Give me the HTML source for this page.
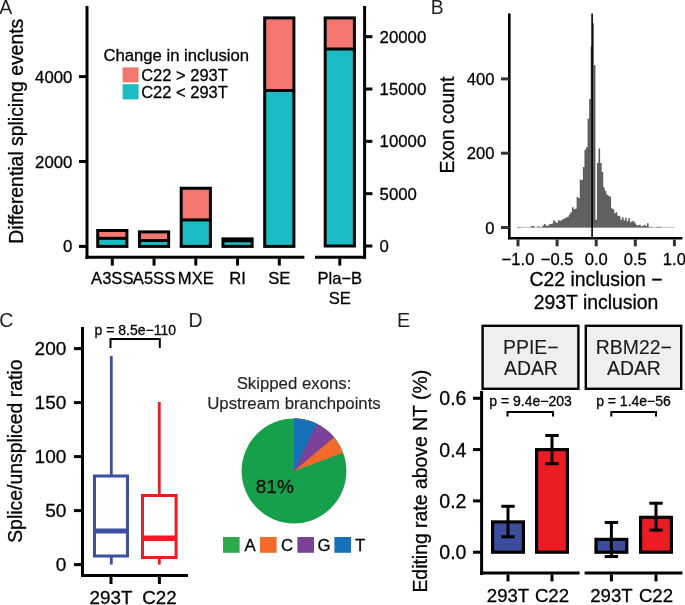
<!DOCTYPE html>
<html><head><meta charset="utf-8"><style>
html,body{margin:0;padding:0;background:#fff;}
svg{display:block;font-family:"Liberation Sans", sans-serif;will-change:transform;}
text{stroke:#000;stroke-width:0.28px;}
</style></head><body>
<svg width="685" height="605" viewBox="0 0 685 605">
<rect width="685" height="605" fill="#fff"/>
<text x="-0.8" y="14" font-size="19.5" text-anchor="start" fill="#231f20" style="stroke-width:0">A</text>
<text x="22.6" y="131.2" font-size="19.4" text-anchor="middle" fill="#000" transform="rotate(-90 22.6 131.2)" >Differential splicing events</text>
<line x1="87" y1="6" x2="87" y2="258.7" stroke="#000" stroke-width="3" stroke-linecap="butt"/>
<line x1="85.5" y1="257.2" x2="304.4" y2="257.2" stroke="#000" stroke-width="3" stroke-linecap="butt"/>
<line x1="79" y1="246.4" x2="87" y2="246.4" stroke="#000" stroke-width="3" stroke-linecap="butt"/>
<text x="72.4" y="252.4" font-size="16.8" text-anchor="end" fill="#000" >0</text>
<line x1="79" y1="161.5" x2="87" y2="161.5" stroke="#000" stroke-width="3" stroke-linecap="butt"/>
<text x="72.4" y="167.5" font-size="16.8" text-anchor="end" fill="#000" >2000</text>
<line x1="79" y1="76.6" x2="87" y2="76.6" stroke="#000" stroke-width="3" stroke-linecap="butt"/>
<text x="72.4" y="82.6" font-size="16.8" text-anchor="end" fill="#000" >4000</text>
<rect x="97.70" y="238.33" width="29.20" height="8.07" fill="#1bbcc4" stroke="none" stroke-width="0" />
<rect x="97.70" y="230.48" width="29.20" height="7.85" fill="#f3776f" stroke="none" stroke-width="0" />
<line x1="97.7" y1="238.3345" x2="126.89999999999999" y2="238.3345" stroke="#000" stroke-width="3" stroke-linecap="butt"/>
<rect x="97.70" y="230.48" width="29.20" height="15.92" fill="none" stroke="#000" stroke-width="3" />
<line x1="112.3" y1="258.7" x2="112.3" y2="265.6" stroke="#000" stroke-width="3" stroke-linecap="butt"/>
<text x="112.3" y="284" font-size="16.6" text-anchor="middle" fill="#000" >A3SS</text>
<rect x="139.45" y="240.54" width="29.20" height="5.86" fill="#1bbcc4" stroke="none" stroke-width="0" />
<rect x="139.45" y="231.88" width="29.20" height="8.66" fill="#f3776f" stroke="none" stroke-width="0" />
<line x1="139.45000000000002" y1="240.5419" x2="168.65" y2="240.5419" stroke="#000" stroke-width="3" stroke-linecap="butt"/>
<rect x="139.45" y="231.88" width="29.20" height="14.52" fill="none" stroke="#000" stroke-width="3" />
<line x1="154.05" y1="258.7" x2="154.05" y2="265.6" stroke="#000" stroke-width="3" stroke-linecap="butt"/>
<text x="154.05" y="284" font-size="16.6" text-anchor="middle" fill="#000" >A5SS</text>
<rect x="181.20" y="219.91" width="29.20" height="26.49" fill="#1bbcc4" stroke="none" stroke-width="0" />
<rect x="181.20" y="188.24" width="29.20" height="31.67" fill="#f3776f" stroke="none" stroke-width="0" />
<line x1="181.20000000000002" y1="219.9112" x2="210.4" y2="219.9112" stroke="#000" stroke-width="3" stroke-linecap="butt"/>
<rect x="181.20" y="188.24" width="29.20" height="58.16" fill="none" stroke="#000" stroke-width="3" />
<line x1="195.8" y1="258.7" x2="195.8" y2="265.6" stroke="#000" stroke-width="3" stroke-linecap="butt"/>
<text x="195.8" y="284" font-size="16.6" text-anchor="middle" fill="#000" >MXE</text>
<rect x="222.95" y="240.80" width="29.20" height="5.60" fill="#1bbcc4" stroke="none" stroke-width="0" />
<rect x="222.95" y="238.89" width="29.20" height="1.91" fill="#f3776f" stroke="none" stroke-width="0" />
<line x1="222.95000000000002" y1="240.7966" x2="252.15" y2="240.7966" stroke="#000" stroke-width="3" stroke-linecap="butt"/>
<rect x="222.95" y="238.89" width="29.20" height="7.51" fill="none" stroke="#000" stroke-width="3" />
<line x1="237.55" y1="258.7" x2="237.55" y2="265.6" stroke="#000" stroke-width="3" stroke-linecap="butt"/>
<text x="237.55" y="284" font-size="16.6" text-anchor="middle" fill="#000" >RI</text>
<rect x="264.70" y="90.48" width="29.20" height="155.92" fill="#1bbcc4" stroke="none" stroke-width="0" />
<rect x="264.70" y="17.89" width="29.20" height="72.59" fill="#f3776f" stroke="none" stroke-width="0" />
<line x1="264.7" y1="90.48115000000001" x2="293.90000000000003" y2="90.48115000000001" stroke="#000" stroke-width="3" stroke-linecap="butt"/>
<rect x="264.70" y="17.89" width="29.20" height="228.51" fill="none" stroke="#000" stroke-width="3" />
<line x1="279.3" y1="258.7" x2="279.3" y2="265.6" stroke="#000" stroke-width="3" stroke-linecap="butt"/>
<text x="279.3" y="284" font-size="16.6" text-anchor="middle" fill="#000" >SE</text>
<line x1="315" y1="257.2" x2="366" y2="257.2" stroke="#000" stroke-width="3" stroke-linecap="butt"/>
<line x1="364.6" y1="6" x2="364.6" y2="258.7" stroke="#000" stroke-width="3" stroke-linecap="butt"/>
<line x1="364.6" y1="246.0" x2="372.4" y2="246.0" stroke="#000" stroke-width="3" stroke-linecap="butt"/>
<text x="379.6" y="252.0" font-size="16.8" text-anchor="start" fill="#000" >0</text>
<line x1="364.6" y1="193.67000000000002" x2="372.4" y2="193.67000000000002" stroke="#000" stroke-width="3" stroke-linecap="butt"/>
<text x="379.6" y="199.67000000000002" font-size="16.8" text-anchor="start" fill="#000" >5000</text>
<line x1="364.6" y1="141.34" x2="372.4" y2="141.34" stroke="#000" stroke-width="3" stroke-linecap="butt"/>
<text x="379.6" y="147.34" font-size="16.8" text-anchor="start" fill="#000" >10000</text>
<line x1="364.6" y1="89.01000000000002" x2="372.4" y2="89.01000000000002" stroke="#000" stroke-width="3" stroke-linecap="butt"/>
<text x="379.6" y="95.01000000000002" font-size="16.8" text-anchor="start" fill="#000" >15000</text>
<line x1="364.6" y1="36.68000000000001" x2="372.4" y2="36.68000000000001" stroke="#000" stroke-width="3" stroke-linecap="butt"/>
<text x="379.6" y="42.68000000000001" font-size="16.8" text-anchor="start" fill="#000" >20000</text>
<rect x="325.20" y="49.00" width="29.20" height="197.00" fill="#1bbcc4" stroke="none" stroke-width="0" />
<rect x="325.20" y="17.90" width="29.20" height="31.10" fill="#f3776f" stroke="none" stroke-width="0" />
<line x1="325.2" y1="49" x2="354.40000000000003" y2="49" stroke="#000" stroke-width="3" stroke-linecap="butt"/>
<rect x="325.20" y="17.90" width="29.20" height="228.10" fill="none" stroke="#000" stroke-width="3" />
<line x1="339.8" y1="258.7" x2="339.8" y2="265.6" stroke="#000" stroke-width="3" stroke-linecap="butt"/>
<text x="339.8" y="284" font-size="16.6" text-anchor="middle" fill="#000" >Pla−B</text>
<text x="339.8" y="304" font-size="16.6" text-anchor="middle" fill="#000" >SE</text>
<text x="103.4" y="61" font-size="16.7" text-anchor="start" fill="#000" >Change in inclusion</text>
<rect x="122.60" y="67.40" width="16.00" height="15.00" fill="#f3776f" stroke="none" stroke-width="0" />
<rect x="122.60" y="84.20" width="16.00" height="15.20" fill="#1bbcc4" stroke="none" stroke-width="0" />
<text x="141.2" y="81" font-size="16.5" text-anchor="start" fill="#000" >C22 &gt; 293T</text>
<text x="141.2" y="98" font-size="16.5" text-anchor="start" fill="#000" >C22 &lt; 293T</text>
<text x="430.8" y="14" font-size="19.3" text-anchor="start" fill="#231f20" style="stroke-width:0">B</text>
<text x="454.2" y="125" font-size="19.4" text-anchor="middle" fill="#000" transform="rotate(-90 454.2 125)" >Exon count</text>
<line x1="517.2" y1="227.3" x2="675" y2="227.3" stroke="#888" stroke-width="0.5"/>
<path d="M517.22,227.5 L517.22,227.00 L518.78,227.00 L518.78,227.20 L520.35,227.20 L520.35,227.20 L521.91,227.20 L521.91,227.50 L523.47,227.50 L523.47,227.50 L525.04,227.50 L525.04,227.50 L526.60,227.50 L526.60,227.50 L528.17,227.50 L528.17,227.50 L529.73,227.50 L529.73,227.20 L531.29,227.20 L531.29,225.90 L532.86,225.90 L532.86,225.90 L534.42,225.90 L534.42,227.50 L535.99,227.50 L535.99,227.50 L537.55,227.50 L537.55,226.20 L539.11,226.20 L539.11,227.20 L540.68,227.20 L540.68,227.20 L542.24,227.20 L542.24,225.70 L543.81,225.70 L543.81,224.00 L545.37,224.00 L545.37,225.20 L546.93,225.20 L546.93,225.90 L548.50,225.90 L548.50,224.40 L550.06,224.40 L550.06,223.90 L551.63,223.90 L551.63,223.40 L553.19,223.40 L553.19,220.30 L554.75,220.30 L554.75,221.70 L556.32,221.70 L556.32,222.90 L557.88,222.90 L557.88,220.30 L559.45,220.30 L559.45,220.70 L561.01,220.70 L561.01,220.30 L562.57,220.30 L562.57,219.00 L564.14,219.00 L564.14,218.20 L565.70,218.20 L565.70,217.50 L567.27,217.50 L567.27,216.70 L568.83,216.70 L568.83,214.50 L570.39,214.50 L570.39,212.20 L571.96,212.20 L571.96,207.20 L573.52,207.20 L573.52,209.20 L575.09,209.20 L575.09,208.70 L576.65,208.70 L576.65,196.90 L578.21,196.90 L578.21,198.30 L579.78,198.30 L579.78,179.40 L581.34,179.40 L581.34,179.90 L582.91,179.90 L582.91,167.10 L584.47,167.10 L584.47,149.70 L586.03,149.70 L586.03,147.20 L587.60,147.20 L587.60,118.70 L589.16,118.70 L589.16,98.90 L590.73,98.90 L590.73,46.60 L592.29,46.60 L592.29,23.30 L593.85,23.30 L593.85,64.90 L595.42,64.90 L595.42,219.70 L596.98,219.70 L596.98,163.10 L598.55,163.10 L598.55,148.50 L600.11,148.50 L600.11,163.10 L601.67,163.10 L601.67,172.00 L603.24,172.00 L603.24,187.40 L604.80,187.40 L604.80,190.90 L606.37,190.90 L606.37,194.80 L607.93,194.80 L607.93,195.80 L609.49,195.80 L609.49,196.80 L611.06,196.80 L611.06,208.20 L612.62,208.20 L612.62,209.20 L614.19,209.20 L614.19,213.20 L615.75,213.20 L615.75,212.20 L617.31,212.20 L617.31,215.70 L618.88,215.70 L618.88,216.20 L620.44,216.20 L620.44,219.70 L622.01,219.70 L622.01,217.20 L623.57,217.20 L623.57,220.60 L625.13,220.60 L625.13,217.70 L626.70,217.70 L626.70,221.20 L628.26,221.20 L628.26,218.20 L629.83,218.20 L629.83,222.20 L631.39,222.20 L631.39,221.20 L632.95,221.20 L632.95,221.20 L634.52,221.20 L634.52,223.20 L636.08,223.20 L636.08,225.20 L637.65,225.20 L637.65,225.20 L639.21,225.20 L639.21,224.70 L640.77,224.70 L640.77,226.20 L642.34,226.20 L642.34,225.70 L643.90,225.70 L643.90,224.70 L645.47,224.70 L645.47,226.00 L647.03,226.00 L647.03,223.20 L648.59,223.20 L648.59,227.20 L650.16,227.20 L650.16,226.70 L651.72,226.70 L651.72,227.50 L653.29,227.50 L653.29,227.50 L654.85,227.50 L654.85,227.50 L656.41,227.50 L656.41,227.10 L657.98,227.10 L657.98,227.10 L659.54,227.10 L659.54,227.10 L661.11,227.10 L661.11,227.50 L662.67,227.50 L662.67,227.50 L664.23,227.50 L664.23,227.50 L665.80,227.50 L665.80,227.50 L667.36,227.50 L667.36,227.50 L668.93,227.50 L668.93,227.50 L670.49,227.50 L670.49,227.50 L672.05,227.50 L672.05,227.50 L673.62,227.50 L673.62,227.50 L675.18,227.50 L675.18,227.5 Z" fill="#595959"/>
<path d="M532.86,227.5 V225.90 M543.81,227.5 V225.70 M545.37,227.5 V225.20 M546.93,227.5 V225.90 M548.50,227.5 V225.90 M550.06,227.5 V224.40 M551.63,227.5 V223.90 M553.19,227.5 V223.40 M554.75,227.5 V221.70 M556.32,227.5 V222.90 M557.88,227.5 V222.90 M559.45,227.5 V220.70 M561.01,227.5 V220.70 M562.57,227.5 V220.30 M564.14,227.5 V219.00 M565.70,227.5 V218.20 M567.27,227.5 V217.50 M568.83,227.5 V216.70 M570.39,227.5 V214.50 M571.96,227.5 V212.20 M573.52,227.5 V209.20 M575.09,227.5 V209.20 M576.65,227.5 V208.70 M578.21,227.5 V198.30 M579.78,227.5 V198.30 M581.34,227.5 V179.90 M582.91,227.5 V179.90 M584.47,227.5 V167.10 M586.03,227.5 V149.70 M587.60,227.5 V147.20 M589.16,227.5 V118.70 M590.73,227.5 V98.90 M592.29,227.5 V46.60 M593.85,227.5 V64.90 M595.42,227.5 V219.70 M596.98,227.5 V219.70 M598.55,227.5 V163.10 M600.11,227.5 V163.10 M601.67,227.5 V172.00 M603.24,227.5 V187.40 M604.80,227.5 V190.90 M606.37,227.5 V194.80 M607.93,227.5 V195.80 M609.49,227.5 V196.80 M611.06,227.5 V208.20 M612.62,227.5 V209.20 M614.19,227.5 V213.20 M615.75,227.5 V213.20 M617.31,227.5 V215.70 M618.88,227.5 V216.20 M620.44,227.5 V219.70 M622.01,227.5 V219.70 M623.57,227.5 V220.60 M625.13,227.5 V220.60 M626.70,227.5 V221.20 M628.26,227.5 V221.20 M629.83,227.5 V222.20 M631.39,227.5 V222.20 M632.95,227.5 V221.20 M634.52,227.5 V223.20 M636.08,227.5 V225.20 M637.65,227.5 V225.20 M639.21,227.5 V225.20 M640.77,227.5 V226.20 M642.34,227.5 V226.20 M643.90,227.5 V225.70 M645.47,227.5 V226.00 M647.03,227.5 V226.00" stroke="#fff" stroke-opacity="0.22" stroke-width="0.35" fill="none"/>
<line x1="509.3" y1="13.4" x2="509.3" y2="239.2" stroke="#000" stroke-width="2.6" stroke-linecap="butt"/>
<line x1="508" y1="238.3" x2="682.4" y2="238.3" stroke="#000" stroke-width="2.6" stroke-linecap="butt"/>
<line x1="501" y1="227.5" x2="509.3" y2="227.5" stroke="#333" stroke-width="3" stroke-linecap="butt"/>
<text x="494.4" y="233.5" font-size="16.6" text-anchor="end" fill="#000" >0</text>
<line x1="501" y1="153.2" x2="509.3" y2="153.2" stroke="#333" stroke-width="3" stroke-linecap="butt"/>
<text x="494.4" y="159.2" font-size="16.6" text-anchor="end" fill="#000" >200</text>
<line x1="501" y1="78.9" x2="509.3" y2="78.9" stroke="#333" stroke-width="3" stroke-linecap="butt"/>
<text x="494.4" y="84.9" font-size="16.6" text-anchor="end" fill="#000" >400</text>
<line x1="518.0" y1="239.5" x2="518.0" y2="246.3" stroke="#333" stroke-width="3" stroke-linecap="butt"/>
<text x="518.0" y="265" font-size="16.6" text-anchor="middle" fill="#000" >−1.0</text>
<line x1="557.1" y1="239.5" x2="557.1" y2="246.3" stroke="#333" stroke-width="3" stroke-linecap="butt"/>
<text x="557.1" y="265" font-size="16.6" text-anchor="middle" fill="#000" >−0.5</text>
<line x1="596.2" y1="239.5" x2="596.2" y2="246.3" stroke="#333" stroke-width="3" stroke-linecap="butt"/>
<text x="596.2" y="265" font-size="16.6" text-anchor="middle" fill="#000" >0.0</text>
<line x1="635.3000000000001" y1="239.5" x2="635.3000000000001" y2="246.3" stroke="#333" stroke-width="3" stroke-linecap="butt"/>
<text x="635.3000000000001" y="265" font-size="16.6" text-anchor="middle" fill="#000" >0.5</text>
<line x1="674.4000000000001" y1="239.5" x2="674.4000000000001" y2="246.3" stroke="#333" stroke-width="3" stroke-linecap="butt"/>
<text x="674.4000000000001" y="265" font-size="16.6" text-anchor="middle" fill="#000" >1.0</text>
<line x1="592.1" y1="13.4" x2="592.1" y2="238" stroke="#000" stroke-width="1.6" stroke-linecap="butt"/>
<text x="596" y="285.6" font-size="19.4" text-anchor="middle" fill="#000" >C22 inclusion −</text>
<text x="596" y="308.6" font-size="19.4" text-anchor="middle" fill="#000" >293T inclusion</text>
<text x="-0.8" y="326.6" font-size="19.5" text-anchor="start" fill="#231f20" style="stroke-width:0">C</text>
<text x="22.4" y="451.2" font-size="19.4" text-anchor="middle" fill="#000" transform="rotate(-90 22.4 451.2)" >Splice/unspliced ratio</text>
<line x1="82.5" y1="327" x2="82.5" y2="577" stroke="#000" stroke-width="3" stroke-linecap="butt"/>
<line x1="81" y1="575.6" x2="188" y2="575.6" stroke="#000" stroke-width="3" stroke-linecap="butt"/>
<line x1="74" y1="564.6" x2="82.5" y2="564.6" stroke="#000" stroke-width="3" stroke-linecap="butt"/>
<text x="66.3" y="571.4" font-size="19" text-anchor="end" fill="#000" >0</text>
<line x1="74" y1="510.6" x2="82.5" y2="510.6" stroke="#000" stroke-width="3" stroke-linecap="butt"/>
<text x="66.3" y="517.4" font-size="19" text-anchor="end" fill="#000" >50</text>
<line x1="74" y1="456.6" x2="82.5" y2="456.6" stroke="#000" stroke-width="3" stroke-linecap="butt"/>
<text x="66.3" y="463.40000000000003" font-size="19" text-anchor="end" fill="#000" >100</text>
<line x1="74" y1="402.6" x2="82.5" y2="402.6" stroke="#000" stroke-width="3" stroke-linecap="butt"/>
<text x="66.3" y="409.40000000000003" font-size="19" text-anchor="end" fill="#000" >150</text>
<line x1="74" y1="348.6" x2="82.5" y2="348.6" stroke="#000" stroke-width="3" stroke-linecap="butt"/>
<text x="66.3" y="355.40000000000003" font-size="19" text-anchor="end" fill="#000" >200</text>
<line x1="111" y1="577" x2="111" y2="584" stroke="#000" stroke-width="3" stroke-linecap="butt"/>
<text x="111" y="604" font-size="18.8" text-anchor="middle" fill="#000" >293T</text>
<line x1="159.4" y1="577" x2="159.4" y2="584" stroke="#000" stroke-width="3" stroke-linecap="butt"/>
<text x="159.4" y="604" font-size="18.8" text-anchor="middle" fill="#000" >C22</text>
<line x1="111.3" y1="356" x2="111.3" y2="476" stroke="#3c4fa0" stroke-width="2.8" stroke-linecap="butt"/>
<line x1="111.3" y1="556" x2="111.3" y2="564.6" stroke="#3c4fa0" stroke-width="2.8" stroke-linecap="butt"/>
<rect x="94.50" y="476.00" width="33.00" height="80.00" fill="#fff" stroke="#3c4fa0" stroke-width="3" />
<line x1="94.5" y1="531" x2="127.5" y2="531" stroke="#3c4fa0" stroke-width="5" stroke-linecap="butt"/>
<line x1="159.3" y1="402" x2="159.3" y2="495.5" stroke="#ec1c24" stroke-width="2.8" stroke-linecap="butt"/>
<line x1="159.3" y1="557.5" x2="159.3" y2="564.6" stroke="#ec1c24" stroke-width="2.8" stroke-linecap="butt"/>
<rect x="142.50" y="495.50" width="33.60" height="62.00" fill="#fff" stroke="#ec1c24" stroke-width="3" />
<line x1="142.5" y1="538.3" x2="176.1" y2="538.3" stroke="#ec1c24" stroke-width="5.5" stroke-linecap="butt"/>
<polyline points="110.5,348 110.5,339 159.8,339 159.8,348" fill="none" stroke="#000" stroke-width="2"/>
<text x="135.3" y="335" font-size="14" text-anchor="middle" fill="#000" >p = 8.5e−110</text>
<text x="188.4" y="326.6" font-size="19.5" text-anchor="start" fill="#231f20" style="stroke-width:0">D</text>
<text x="294" y="389" font-size="16.8" text-anchor="middle" fill="#231f20" style="stroke:#231f20;stroke-width:0.15">Skipped exons:</text>
<text x="294" y="409" font-size="16.8" text-anchor="middle" fill="#231f20" style="stroke:#231f20;stroke-width:0.15">Upstream branchpoints</text>
<circle cx="294" cy="471" r="52.4" fill="#17a04b"/>
<path d="M294,471 L294.00,418.60 A52.4,52.4 0 0 1 343.15,452.82 Z" fill="#f26b2a"/>
<path d="M294,471 L294.00,418.60 A52.4,52.4 0 0 1 334.14,437.32 Z" fill="#7c4199"/>
<path d="M294,471 L294.00,418.60 A52.4,52.4 0 0 1 316.64,423.74 Z" fill="#1771b9"/>
<text x="274.8" y="492.6" font-size="19" text-anchor="middle" fill="#111" >81%</text>
<rect x="223.00" y="537.00" width="16.60" height="15.80" fill="#2eaa4a" stroke="none" stroke-width="0" />
<text x="244.4" y="551.3" font-size="16.8" text-anchor="start" fill="#000" >A</text>
<rect x="260.00" y="537.00" width="16.60" height="15.80" fill="#f26b2a" stroke="none" stroke-width="0" />
<text x="281" y="551.3" font-size="16.8" text-anchor="start" fill="#000" >C</text>
<rect x="297.40" y="537.00" width="16.60" height="15.80" fill="#7c4199" stroke="none" stroke-width="0" />
<text x="317.6" y="551.3" font-size="16.8" text-anchor="start" fill="#000" >G</text>
<rect x="334.40" y="537.00" width="16.60" height="15.80" fill="#1771b9" stroke="none" stroke-width="0" />
<text x="355" y="551.3" font-size="16.8" text-anchor="start" fill="#000" >T</text>
<text x="397.0" y="326.6" font-size="19.7" text-anchor="start" fill="#231f20" style="stroke-width:0">E</text>
<text x="426.8" y="481.2" font-size="19.4" text-anchor="middle" fill="#000" transform="rotate(-90 426.8 481.2)" >Editing rate above NT (%)</text>
<rect x="482.60" y="325.80" width="95.80" height="63.00" fill="#efeff1" stroke="#000" stroke-width="2.4" />
<text x="530.8" y="354.2" font-size="19.4" text-anchor="middle" fill="#1a1a1a" style="stroke:#1a1a1a;stroke-width:0.1">PPIE−</text>
<text x="530.9" y="375.2" font-size="19.4" text-anchor="middle" fill="#1a1a1a" style="stroke:#1a1a1a;stroke-width:0.1">ADAR</text>
<rect x="585.80" y="325.80" width="95.40" height="63.00" fill="#efeff1" stroke="#000" stroke-width="2.4" />
<text x="633.8" y="354.2" font-size="19.4" text-anchor="middle" fill="#1a1a1a" style="stroke:#1a1a1a;stroke-width:0.1">RBM22−</text>
<text x="633.9" y="375.2" font-size="19.4" text-anchor="middle" fill="#1a1a1a" style="stroke:#1a1a1a;stroke-width:0.1">ADAR</text>
<line x1="481.6" y1="391" x2="481.6" y2="575" stroke="#000" stroke-width="3" stroke-linecap="butt"/>
<line x1="480.1" y1="573" x2="579.6" y2="573" stroke="#000" stroke-width="3" stroke-linecap="butt"/>
<line x1="584.6" y1="573" x2="682.4" y2="573" stroke="#000" stroke-width="3" stroke-linecap="butt"/>
<line x1="473" y1="552.2" x2="481.6" y2="552.2" stroke="#000" stroke-width="3" stroke-linecap="butt"/>
<text x="466.5" y="559.2" font-size="19.6" text-anchor="end" fill="#000" >0.0</text>
<line x1="473" y1="500.90000000000003" x2="481.6" y2="500.90000000000003" stroke="#000" stroke-width="3" stroke-linecap="butt"/>
<text x="466.5" y="507.90000000000003" font-size="19.6" text-anchor="end" fill="#000" >0.2</text>
<line x1="473" y1="449.6" x2="481.6" y2="449.6" stroke="#000" stroke-width="3" stroke-linecap="butt"/>
<text x="466.5" y="456.6" font-size="19.6" text-anchor="end" fill="#000" >0.4</text>
<line x1="473" y1="398.30000000000007" x2="481.6" y2="398.30000000000007" stroke="#000" stroke-width="3" stroke-linecap="butt"/>
<text x="466.5" y="405.30000000000007" font-size="19.6" text-anchor="end" fill="#000" >0.6</text>
<rect x="492.60" y="521.93" width="30.80" height="30.27" fill="#3b4d9c" stroke="#000" stroke-width="3.2" />
<line x1="508" y1="506.28650000000005" x2="508" y2="536.8100000000001" stroke="#000" stroke-width="3" stroke-linecap="butt"/>
<line x1="501.3" y1="506.28650000000005" x2="514.7" y2="506.28650000000005" stroke="#000" stroke-width="3" stroke-linecap="butt"/>
<line x1="501.3" y1="536.8100000000001" x2="514.7" y2="536.8100000000001" stroke="#000" stroke-width="3" stroke-linecap="butt"/>
<rect x="536.60" y="449.60" width="30.80" height="102.60" fill="#ec1c24" stroke="#000" stroke-width="3.2" />
<line x1="552" y1="435.49250000000006" x2="552" y2="463.70750000000004" stroke="#000" stroke-width="3" stroke-linecap="butt"/>
<line x1="545.3" y1="435.49250000000006" x2="558.7" y2="435.49250000000006" stroke="#000" stroke-width="3" stroke-linecap="butt"/>
<line x1="545.3" y1="463.70750000000004" x2="558.7" y2="463.70750000000004" stroke="#000" stroke-width="3" stroke-linecap="butt"/>
<rect x="596.00" y="539.38" width="30.80" height="12.83" fill="#3b4d9c" stroke="#000" stroke-width="3.2" />
<line x1="611.4" y1="522.446" x2="611.4" y2="556.5605" stroke="#000" stroke-width="3" stroke-linecap="butt"/>
<line x1="604.6999999999999" y1="522.446" x2="618.1" y2="522.446" stroke="#000" stroke-width="3" stroke-linecap="butt"/>
<line x1="604.6999999999999" y1="556.5605" x2="618.1" y2="556.5605" stroke="#000" stroke-width="3" stroke-linecap="butt"/>
<rect x="640.60" y="517.32" width="30.80" height="34.88" fill="#ec1c24" stroke="#000" stroke-width="3.2" />
<line x1="656" y1="503.2085000000001" x2="656" y2="530.1410000000001" stroke="#000" stroke-width="3" stroke-linecap="butt"/>
<line x1="649.3" y1="503.2085000000001" x2="662.7" y2="503.2085000000001" stroke="#000" stroke-width="3" stroke-linecap="butt"/>
<line x1="649.3" y1="530.1410000000001" x2="662.7" y2="530.1410000000001" stroke="#000" stroke-width="3" stroke-linecap="butt"/>
<line x1="508" y1="574.4" x2="508" y2="581.4" stroke="#000" stroke-width="3" stroke-linecap="butt"/>
<text x="508" y="601.6" font-size="18.6" text-anchor="middle" fill="#000" >293T</text>
<line x1="552" y1="574.4" x2="552" y2="581.4" stroke="#000" stroke-width="3" stroke-linecap="butt"/>
<text x="552" y="601.6" font-size="18.6" text-anchor="middle" fill="#000" >C22</text>
<line x1="611.4" y1="574.4" x2="611.4" y2="581.4" stroke="#000" stroke-width="3" stroke-linecap="butt"/>
<text x="611.4" y="601.6" font-size="18.6" text-anchor="middle" fill="#000" >293T</text>
<line x1="656" y1="574.4" x2="656" y2="581.4" stroke="#000" stroke-width="3" stroke-linecap="butt"/>
<text x="656" y="601.6" font-size="18.6" text-anchor="middle" fill="#000" >C22</text>
<polyline points="507.5,416.5 507.5,412 553,412 553,416.5" fill="none" stroke="#000" stroke-width="2"/>
<polyline points="611.3,416.5 611.3,412 656,412 656,416.5" fill="none" stroke="#000" stroke-width="2"/>
<text x="530.5" y="406" font-size="14" text-anchor="middle" fill="#000" >p = 9.4e−203</text>
<text x="633.5" y="406" font-size="14" text-anchor="middle" fill="#000" >p = 1.4e−56</text>
</svg>
</body></html>
